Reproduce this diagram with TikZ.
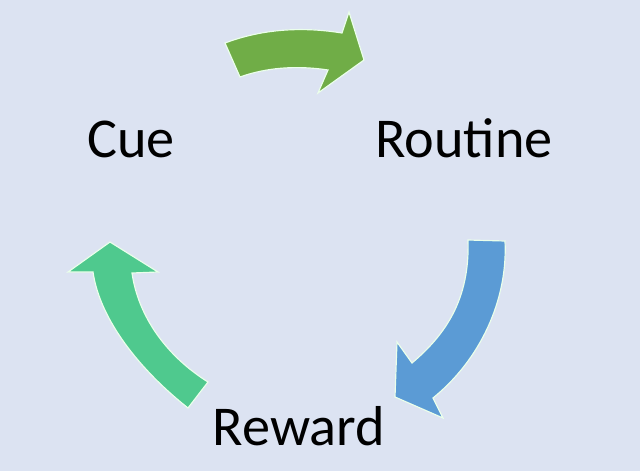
\documentclass[tikz,border=0pt]{standalone}
\usepackage{fontspec}
\setmainfont{Carlito}
\usepackage{xcolor}
\usepackage{tikz}
\usetikzlibrary{positioning}
\definecolor{bgblue}{HTML}{DCE3F2}
\definecolor{cuegreen}{HTML}{70AD47}
\definecolor{routineblue}{HTML}{5B9BD5}
\definecolor{rewardteal}{HTML}{4FC98E}

\begin{document}
\begin{tikzpicture}[x=0.03cm, y=-0.03cm, font=\fontsize{48}{56}\selectfont,
  blockarrow/.style={draw=white!92!green, line width=1pt, line join=miter},
  word/.style={anchor=base, inner sep=0pt}]
  \fill[bgblue] (0,0) rectangle (640,471);
  \useasboundingbox (0,0) rectangle (640,471);
  % the three words of the loop
  \node[word] (cue) at (131,157) {Cue};
  \node[word] (routine) at (464,157) {Routine};
  \node[word] (reward) at (299,445) {Reward};
  % cue -> routine
  \fill[cuegreen, blockarrow] (225,43) .. controls (265,28) and (305,27) .. (342,33)
    -- (349,12) -- (364,60) -- (318,93) -- (328,70)
    .. controls (295,65) and (265,68) .. (240,77) -- cycle;
  % routine -> reward
  \fill[routineblue, blockarrow] (468,240) -- (505,241)
    .. controls (508,300) and (480,360) .. (433,398)
    -- (443,418) -- (395,397) -- (397,342) -- (412,363)
    .. controls (445,335) and (470,300) .. (468,240) -- cycle;
  % reward -> cue
  \fill[rewardteal, blockarrow] (208,382) -- (188,408)
    .. controls (140,370) and (100,320) .. (93,272)
    -- (68,272) -- (110,242) -- (158,272) -- (132,273)
    .. controls (138,315) and (165,355) .. (208,382) -- cycle;
\end{tikzpicture}
\end{document}
